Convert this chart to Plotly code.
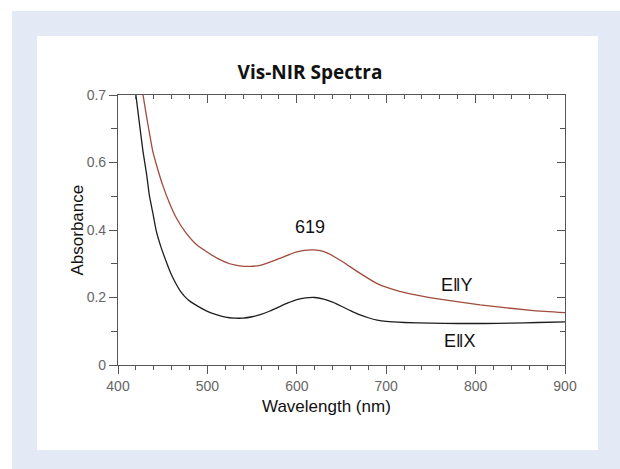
import plotly.graph_objects as go

# ---- data ----
wl_x = [420, 424, 428, 432, 435, 439, 443, 448, 454, 459, 465, 470, 475, 480, 490, 500,
        510, 520, 530, 540, 550, 560, 570, 580, 590, 600, 610, 620, 630, 640, 650, 660,
        670, 680, 690, 700, 720, 750, 780, 810, 840, 870, 900]
abs_x = [0.80, 0.715, 0.632, 0.565, 0.504, 0.45, 0.395, 0.35, 0.306, 0.272, 0.240, 0.218,
         0.202, 0.190, 0.173, 0.159, 0.149, 0.142, 0.139, 0.139, 0.143, 0.150, 0.160,
         0.172, 0.184, 0.194, 0.199, 0.200, 0.195, 0.186, 0.174, 0.161, 0.149, 0.140,
         0.133, 0.129, 0.126, 0.124, 0.123, 0.123, 0.124, 0.126, 0.128]

wl_y = [428, 432, 436, 439, 445, 450, 458, 465, 475, 488, 500, 514, 525, 536, 548, 560,
        580, 600, 617, 626, 635, 650, 670, 690, 715, 740, 760, 805, 865, 900]
abs_y = [0.80, 0.735, 0.675, 0.632, 0.575, 0.533, 0.477, 0.437, 0.395, 0.356, 0.334,
         0.312, 0.300, 0.294, 0.292, 0.296, 0.315, 0.335, 0.341, 0.339, 0.331, 0.308,
         0.273, 0.241, 0.218, 0.204, 0.195, 0.178, 0.161, 0.155]

x_tickvals = [400, 500, 600, 700, 800, 900]
y_tickvals = [0, 0.2, 0.4, 0.6, 0.8]
y_ticktext = ["0", "0.2", "0.4", "0.6", "0.7"]

labels = ["619", "E\u2016Y", "E\u2016X"]
label_x = [615, 779, 782]
label_y = [0.41, 0.237, 0.072]

FONT = "Liberation Sans, Arial, sans-serif"
AXC = "#555555"
TICKC = "#666666"

fig = go.Figure()
fig.add_trace(go.Scatter(x=wl_x, y=abs_x, mode="lines",
                         line=dict(color="#1e1e1e", width=1.3, shape="spline", smoothing=0.5),
                         showlegend=False, hoverinfo="skip"))
fig.add_trace(go.Scatter(x=wl_y, y=abs_y, mode="lines",
                         line=dict(color="#a04b3b", width=1.3, shape="spline", smoothing=0.5),
                         showlegend=False, hoverinfo="skip"))
# invisible copy so that the mirrored (top/right) axes are drawn
fig.add_trace(go.Scatter(x=wl_x, y=abs_x, xaxis="x2", yaxis="y2", mode="lines",
                         line=dict(width=0, color="rgba(0,0,0,0)"),
                         showlegend=False, hoverinfo="skip"))

W, H = 620, 469
L, R, T, B = 118, 55, 95, 104
pw, ph = W - L - R, H - T - B

def px(xp):
    return (xp - L) / pw

def py(yp):
    return (H - B - yp) / ph

shapes = [
    dict(type="rect", xref="paper", yref="paper", x0=px(12), x1=px(640), y0=py(11), y1=py(500),
         fillcolor="#e3e9f5", line=dict(width=0), layer="below"),
    dict(type="rect", xref="paper", yref="paper", x0=px(37), x1=px(598), y0=py(36), y1=py(450),
         fillcolor="#ffffff", line=dict(width=0), layer="below"),
]

annotations = [
    dict(text=t, x=lx, y=ly, xref="x", yref="y", showarrow=False,
         font=dict(family=FONT, size=18, color="#111111"))
    for t, lx, ly in zip(labels, label_x, label_y)
]
annotations += [
    dict(text="Absorbance", x=px(65), y=0.5, xref="paper", yref="paper", textangle=-90,
         showarrow=False, font=dict(family=FONT, size=17, color="#111111")),
    dict(text="Wavelength (nm)", x=px(326), y=py(418), xref="paper", yref="paper",
         showarrow=False, font=dict(family=FONT, size=17, color="#111111")),
]

common_x = dict(range=[400, 900], showgrid=False, zeroline=False, showline=True,
                linecolor=AXC, linewidth=1.2, tickcolor=AXC, ticklen=8, tickwidth=1)
common_y = dict(range=[0, 0.8], showgrid=False, zeroline=False, showline=True,
                linecolor=AXC, linewidth=1.2, tickcolor=AXC, ticklen=8, tickwidth=1)

fig.update_layout(
    width=W, height=H,
    margin=dict(l=L, r=R, t=T, b=B),
    paper_bgcolor="#ffffff", plot_bgcolor="rgba(0,0,0,0)",
    title=dict(text="<b>Vis-NIR Spectra</b>", x=0.5, xref="container", xanchor="center",
               y=1 - 72 / H, yref="container", yanchor="middle",
               font=dict(family="Open Sans, sans-serif", size=19, color="#111111")),
    xaxis=dict(**common_x, ticks="outside", tickmode="array", tickvals=x_tickvals,
               tickfont=dict(family=FONT, size=14, color=TICKC),
               minor=dict(dtick=20, tick0=400, ticks="outside", ticklen=4, tickcolor=AXC)),
    xaxis2=dict(**common_x, overlaying="x", side="top", anchor="y2", ticks="inside",
                tickmode="array", tickvals=x_tickvals, showticklabels=False,
                minor=dict(dtick=20, tick0=400, ticks="inside", ticklen=4, tickcolor=AXC)),
    yaxis=dict(**common_y, ticks="outside", tickmode="array", tickvals=y_tickvals,
               ticktext=y_ticktext, tickfont=dict(family=FONT, size=14, color=TICKC),
               minor=dict(dtick=0.1, tick0=0, ticks="outside", ticklen=6, tickcolor=AXC)),
    yaxis2=dict(**common_y, overlaying="y", side="right", anchor="x2", ticks="inside",
                tickmode="array", tickvals=y_tickvals, showticklabels=False,
                minor=dict(dtick=0.1, tick0=0, ticks="inside", ticklen=5, tickcolor=AXC)),
    shapes=shapes,
    annotations=annotations,
)

fig.write_html("out.html")
